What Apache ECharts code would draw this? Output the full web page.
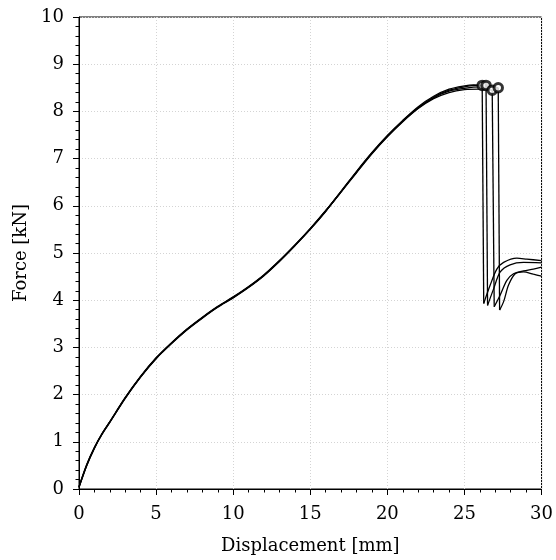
<!DOCTYPE html>
<html>
<head>
<meta charset="utf-8">
<script src="https://cdn.jsdelivr.net/npm/echarts@6/dist/echarts.min.js"></script>
<style>html,body{margin:0;padding:0;background:#fff}#c{width:556px;height:560px}</style>
</head>
<body>
<div id="c"></div>
<script>
// Shared displacement samples for the loading branch [mm]
const dispRise = [0, 0.5, 1, 1.5, 2, 3, 4, 5, 6, 7, 8, 9, 10, 11, 12, 13, 14, 15, 16, 17, 18, 19, 20, 21, 22, 23, 24, 25];
// Force for each specimen on the loading branch [kN]
const force1 = [0.05, 0.52, 0.88, 1.18, 1.43, 1.94, 2.39, 2.78, 3.10, 3.39, 3.64, 3.87, 4.07, 4.29, 4.54, 4.84, 5.17, 5.52, 5.90, 6.31, 6.73, 7.13, 7.49, 7.81, 8.10, 8.32, 8.47, 8.54];
const force2 = [0.04, 0.50, 0.87, 1.17, 1.42, 1.93, 2.38, 2.77, 3.09, 3.38, 3.63, 3.86, 4.06, 4.28, 4.53, 4.83, 5.16, 5.51, 5.89, 6.30, 6.72, 7.12, 7.48, 7.80, 8.08, 8.30, 8.45, 8.52];
const force3 = [0.03, 0.49, 0.86, 1.16, 1.41, 1.92, 2.37, 2.76, 3.08, 3.37, 3.62, 3.85, 4.05, 4.27, 4.52, 4.82, 5.15, 5.50, 5.88, 6.29, 6.70, 7.10, 7.46, 7.78, 8.06, 8.27, 8.40, 8.46];
const force4 = [0.05, 0.51, 0.88, 1.17, 1.42, 1.93, 2.38, 2.77, 3.09, 3.38, 3.63, 3.86, 4.06, 4.28, 4.53, 4.83, 5.16, 5.51, 5.89, 6.30, 6.71, 7.11, 7.47, 7.79, 8.07, 8.29, 8.43, 8.49];
// Approach to peak (last point = failure point marked by a circle)
const peakX1 = [25.6, 26.15];
const peakY1 = [8.56, 8.55];
const peakX2 = [25.8, 26.4];
const peakY2 = [8.55, 8.55];
const peakX3 = [26, 26.8];
const peakY3 = [8.47, 8.45];
const peakX4 = [26, 26.6, 27.19];
const peakY4 = [8.52, 8.52, 8.50];
// Post-failure branch (first point = bottom of the drop)
const postX1 = [26.25, 26.67, 27.1, 27.54, 28.4, 29.05, 30];
const postY1 = [3.93, 4.32, 4.66, 4.80, 4.89, 4.87, 4.84];
const postX2 = [26.5, 26.89, 27.32, 27.96, 28.83, 30];
const postY2 = [3.89, 4.24, 4.60, 4.75, 4.80, 4.79];
const postX3 = [26.93, 27.32, 27.75, 28.18, 28.83, 29.47, 30];
const postY3 = [3.86, 4.11, 4.42, 4.56, 4.62, 4.66, 4.70];
const postX4 = [27.28, 27.54, 27.86, 28.29, 28.83, 29.47, 30];
const postY4 = [3.79, 3.97, 4.32, 4.56, 4.60, 4.55, 4.51];
const xTicks = [0, 5, 10, 15, 20, 25, 30];
const yTicks = [0, 1, 2, 3, 4, 5, 6, 7, 8, 9, 10];

const rises = [force1, force2, force3, force4];
const peaksXY = [[peakX1, peakY1], [peakX2, peakY2], [peakX3, peakY3], [peakX4, peakY4]];
const postsXY = [[postX1, postY1], [postX2, postY2], [postX3, postY3], [postX4, postY4]];
const FONT = 'DejaVu Serif';
const LINE = { color: '#000', width: 1.3 };

const series = [];
const peaks = [];
const zip = (xs, ys) => xs.map((x, k) => [x, ys[k]]);
rises.forEach((f, i) => {
  const rise = zip(dispRise, f).concat(zip(peaksXY[i][0], peaksXY[i][1]));
  const post = zip(postsXY[i][0], postsXY[i][1]);
  const peak = rise[rise.length - 1];
  peaks.push(peak);
  series.push({ type: 'line', data: rise, showSymbol: false, smooth: 0.3, lineStyle: LINE, silent: true, z: 2 });
  series.push({ type: 'line', data: [peak, post[0]], showSymbol: false, smooth: false, lineStyle: LINE, silent: true, z: 2 });
  series.push({ type: 'line', data: post, showSymbol: false, smooth: 0.3, lineStyle: LINE, silent: true, z: 2 });
});
series.push({
  type: 'scatter', data: peaks, symbol: 'circle', symbolSize: 8.5,
  itemStyle: { color: '#fff', borderColor: '#000', borderWidth: 3 }, z: 5
});

const chart = echarts.init(document.getElementById('c'), null, { renderer: 'canvas' });
chart.setOption({
  animation: false,
  backgroundColor: '#fff',
  grid: { left: 79, right: 13, top: 17, bottom: 68, show: true, borderColor: '#000', borderWidth: 1, backgroundColor: 'transparent' },
  xAxis: {
    type: 'value', min: xTicks[0], max: xTicks[xTicks.length - 1], interval: 5,
    name: 'Displacement [mm]', nameLocation: 'middle', nameGap: 48,
    nameTextStyle: { fontFamily: FONT, fontSize: 18, color: '#000' },
    axisLine: { show: true, onZero: false, lineStyle: { color: '#000', width: 1 } },
    axisTick: { show: true, length: 6, lineStyle: { color: '#000' } },
    minorTick: { show: true, splitNumber: 5, length: 3.5, lineStyle: { color: '#000' } },
    axisLabel: { fontFamily: FONT, fontSize: 18, color: '#000', margin: 16 },
    splitLine: { show: true, lineStyle: { color: '#d4d4d4', type: [1, 2], width: 1 } }
  },
  yAxis: {
    type: 'value', min: yTicks[0], max: yTicks[yTicks.length - 1], interval: 1,
    name: 'Force [kN]', nameLocation: 'middle', nameGap: 49, nameRotate: 90,
    nameTextStyle: { fontFamily: FONT, fontSize: 18, color: '#000' },
    axisLine: { show: true, onZero: false, lineStyle: { color: '#000', width: 1 } },
    axisTick: { show: true, length: 6, lineStyle: { color: '#000' } },
    minorTick: { show: true, splitNumber: 5, length: 3.5, lineStyle: { color: '#000' } },
    axisLabel: { fontFamily: FONT, fontSize: 18, color: '#000', margin: 15 },
    splitLine: { show: true, lineStyle: { color: '#d4d4d4', type: [1, 2], width: 1 } }
  },
  series: series
});
</script>
</body>
</html>
